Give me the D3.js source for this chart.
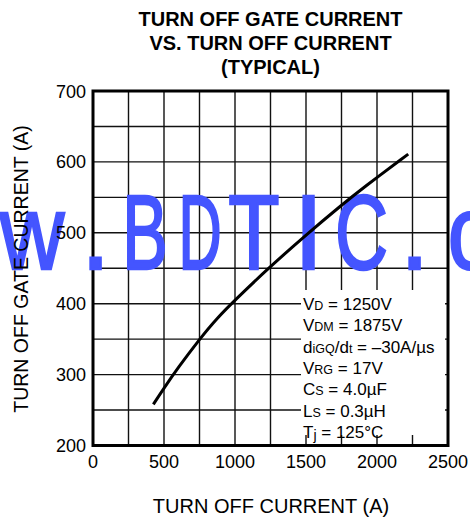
<!DOCTYPE html>
<html>
<head>
<meta charset="utf-8">
<script src="https://cdn.jsdelivr.net/npm/d3@7/dist/d3.min.js"></script>
<style>
  html, body { margin: 0; padding: 0; background: #fff; }
  svg { display: block; }
</style>
</head>
<body>
<script>
// ---- data ----
const titleLines = ["TURN OFF GATE CURRENT", "VS. TURN OFF CURRENT", "(TYPICAL)"];
const xTicks = [0, 500, 1000, 1500, 2000, 2500];
const yTicks = [200, 300, 400, 500, 600, 700];
const xGrid = [0, 250, 500, 750, 1000, 1250, 1500, 1750, 2000, 2250, 2500];
const yGrid = [200, 250, 300, 350, 400, 450, 500, 550, 600, 650, 700];
const curveX = [425, 500, 600, 750, 875, 1000, 1218, 1500, 1750, 1900, 2220];
const curveY = [258, 281, 310, 350, 380, 405, 447, 497, 539, 563, 611];
const xLabel = "TURN OFF CURRENT  (A)";
const yLabel = "TURN OFF GATE CURRENT  (A)";
const noteLines = [
  [["V", 0], ["D", 1], [" = 1250V", 0]],
  [["V", 0], ["DM", 1], [" = 1875V", 0]],
  [["d", 0], ["iGQ", 1], ["/d", 0], ["t", 1], [" = \u201330A/\u00B5s", 0]],
  [["V", 0], ["RG", 1], [" = 17V", 0]],
  [["C", 0], ["S", 1], [" = 4.0\u00B5F", 0]],
  [["L", 0], ["S", 1], [" = 0.3\u00B5H", 0]],
  [["T", 0], ["j", 2], [" = 125\u00B0C", 0]]
];
const watermarkChars = ["w", ".", "B", "D", "T", "I", "C", ".", "c"];

// ---- layout (presentation only) ----
const wmCenters = [32, 95.5, 145, 200, 254, 308.5, 361.5, 414.5, 470];
const wmScales = [0.85, 1, 0.65, 0.57, 0.8, 1, 0.7, 1, 0.85];
const W = 470, H = 519;
const pL = 93, pR = 448, pT = 91, pB = 445.5;
const font = "Liberation Sans, Arial, Helvetica, sans-serif";

const svg = d3.select("body").append("svg").attr("width", W).attr("height", H)
  .style("font-family", font);

const x = d3.scaleLinear().domain([0, 2500]).range([pL, pR]);
const y = d3.scaleLinear().domain([200, 700]).range([pB, pT]);

// grid
const g = svg.append("g");
g.selectAll("line.v").data(xGrid).join("line")
  .attr("x1", d => x(d)).attr("x2", d => x(d))
  .attr("y1", pT).attr("y2", pB)
  .attr("stroke", "#111").attr("stroke-width", 1.4);
g.selectAll("line.h").data(yGrid).join("line")
  .attr("y1", d => y(d)).attr("y2", d => y(d))
  .attr("x1", pL).attr("x2", pR)
  .attr("stroke", "#111").attr("stroke-width", 1.4);

// white box for annotation
svg.append("rect").attr("x", 301).attr("y", 290).attr("width", 144).attr("height", 145)
  .attr("fill", "#fff");

// frame
svg.append("rect").attr("x", pL).attr("y", pT)
  .attr("width", pR - pL).attr("height", pB - pT)
  .attr("fill", "none").attr("stroke", "#000").attr("stroke-width", 3);

// watermark
const wm = svg.append("g");
watermarkChars.forEach((ch, i) => {
  wm.append("text")
    .attr("transform", `translate(${wmCenters[i]},268.5) scale(${wmScales[i]},1)`)
    .attr("text-anchor", "middle")
    .attr("font-size", 105)
    .attr("fill", "#4455ff")
    .attr("stroke", "#4455ff").attr("stroke-width", 2.5)
    .text(ch);
});

// curve
const line = d3.line().x(d => x(d[0])).y(d => y(d[1])).curve(d3.curveBasis);
svg.append("path")
  .datum(curveX.map((v, i) => [v, curveY[i]]))
  .attr("d", line)
  .attr("fill", "none").attr("stroke", "#000").attr("stroke-width", 3);

// tick labels
svg.selectAll("text.xt").data(xTicks).join("text")
  .attr("class", "xt")
  .attr("x", d => x(d)).attr("y", 468)
  .attr("text-anchor", "middle").attr("font-size", 18).attr("fill", "#000")
  .text(d => d);
svg.selectAll("text.yt").data(yTicks).join("text")
  .attr("class", "yt")
  .attr("x", 86).attr("y", d => y(d) + 6.5)
  .attr("text-anchor", "end").attr("font-size", 18).attr("fill", "#000")
  .text(d => d);

// title
svg.selectAll("text.title").data(titleLines).join("text")
  .attr("class", "title")
  .attr("x", 270.5).attr("y", (d, i) => 26 + i * 24)
  .attr("text-anchor", "middle").attr("font-size", 20).attr("font-weight", "bold")
  .attr("fill", "#000")
  .text(d => d);

// axis labels
svg.append("text").attr("x", 271).attr("y", 513)
  .attr("text-anchor", "middle").attr("font-size", 20).attr("fill", "#000")
  .text(xLabel);
svg.append("text").attr("transform", "translate(28,269) rotate(-90)")
  .attr("text-anchor", "middle").attr("font-size", 19.5).attr("fill", "#000")
  .text(yLabel);

// annotation
noteLines.forEach((parts, i) => {
  const t = svg.append("text").attr("x", 303).attr("y", 310 + i * 21.3)
    .attr("font-size", 17).attr("fill", "#000");
  parts.forEach(([s, sub], k) => {
    const ts = t.append("tspan").text(s);
    if (sub === 1) ts.attr("font-size", 12.5);
    if (sub === 2) ts.attr("font-size", 14).attr("dy", 2);
    if (k > 0 && parts[k - 1][1] === 2) ts.attr("dy", -2);
  });
});
</script>
</body>
</html>
